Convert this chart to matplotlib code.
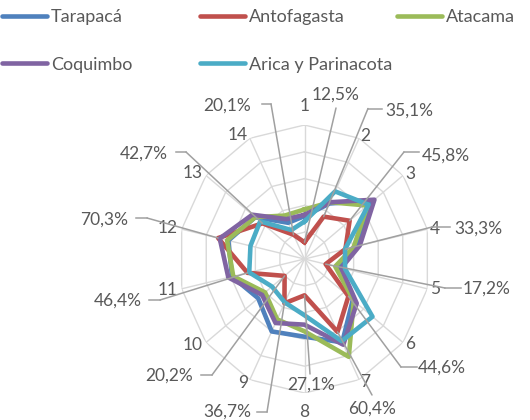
import numpy as np
import matplotlib.pyplot as plt
from matplotlib.lines import Line2D

plt.rcParams['font.family'] = ['Lato', 'DejaVu Sans']

W, H = 530, 420

ejes = [str(i) for i in range(1, 15)]
tarapaca = [0.32, 0.46, 0.70, 0.42, 0.27, 0.49, 0.69, 0.58, 0.60, 0.47, 0.59, 0.62, 0.50, 0.30]
antofagasta = [0.125, 0.351, 0.458, 0.333, 0.172, 0.446, 0.604, 0.271, 0.367, 0.202, 0.464, 0.703, 0.427, 0.201]
atacama = [0.37, 0.47, 0.64, 0.40, 0.25, 0.50, 0.81, 0.54, 0.50, 0.40, 0.58, 0.63, 0.50, 0.36]
coquimbo = [0.33, 0.47, 0.71, 0.45, 0.30, 0.53, 0.71, 0.49, 0.53, 0.43, 0.62, 0.69, 0.53, 0.33]
arica = [0.28, 0.56, 0.65, 0.33, 0.33, 0.69, 0.68, 0.42, 0.36, 0.33, 0.45, 0.44, 0.45, 0.24]

nombres = ["Tarapacá", "Antofagasta", "Atacama", "Coquimbo", "Arica y Parinacota"]
colores = ["#4F81BD", "#C0504D", "#9BBB59", "#8064A2", "#4BACC6"]
valores = [tarapaca, antofagasta, atacama, coquimbo, arica]

# callout layout (pixels from top-left): text centre, then leader points
callouts = [
    ((336, 95), [(336, 108)]),
    ((409, 111), [(382, 108.5), (368, 108.5)]),
    ((446, 156), [(419, 152), (404, 152)]),
    ((478, 229), [(450, 227), (432, 227)]),
    ((487, 289), [(461, 288), (445, 288)]),
    ((442, 368), [(417, 367), (401, 367)]),
    ((372, 409), [(372, 395)]),
    ((311, 385), [(310, 374)]),
    ((227, 412), [(257, 412), (267, 412)]),
    ((169, 376), [(201, 375), (212, 375)]),
    ((118, 301), [(149, 300), (160, 300)]),
    ((104, 220), [(136, 218), (147, 218)]),
    ((144, 154), [(176, 152), (186, 152)]),
    ((227, 106), [(262, 104), (271, 104)]),
]

def fig_xy(p):
    return (p[0] / W, 1 - p[1] / H)

fig = plt.figure(figsize=(W / 100, H / 100), dpi=100)
ax = fig.add_axes([178.5 / W, 27 / H, 252 / W, 268 / H], projection='polar')
ax.set_aspect('auto')
ax.set_theta_zero_location('N')
ax.set_theta_direction(-1)
ax.set_ylim(0, 1)
ax.set_xticks([])
ax.set_yticks([])
ax.grid(False)
ax.spines['polar'].set_visible(False)
ax.patch.set_visible(False)

n = len(ejes)
ang = np.arange(n) * 2 * np.pi / n
ang_c = np.append(ang, ang[0])

# radar grid
for r in [0.2, 0.4, 0.6, 0.8, 1.0]:
    ax.plot(ang_c, [r] * (n + 1), color="#D9D9D9", lw=1, zorder=1)
for a in ang:
    ax.plot([a, a], [0, 1], color="#D9D9D9", lw=1, zorder=1)

for i, (nom, vals, col) in enumerate(zip(nombres, valores, colores)):
    ax.plot(ang_c, vals + vals[:1], color=col, lw=3.3, zorder=3 + i)

texto = "#595959"
for a, lab in zip(ang, ejes):
    s = np.sin(a)
    if abs(s) < 0.1:
        ax.text(a, 1.14, lab, ha='center', va='center', fontsize=12.5, color=texto)
    elif s > 0:
        ax.text(a, 1.02, lab, ha='left', va='center', fontsize=12.5, color=texto)
    else:
        ax.text(a, 1.03, lab, ha='right', va='center', fontsize=12.5, color=texto)

# callouts for Antofagasta values
gris = "#A0A0A0"
for a, v, (tc, pts) in zip(ang, antofagasta, callouts):
    etiqueta = f"{v * 100:.1f}%".replace('.', ',')
    fig.text(*fig_xy(tc), etiqueta, ha='center', va='center', fontsize=12.5, color=texto)
    if len(pts) > 1:
        xs = [fig_xy(p)[0] for p in pts]
        ys = [fig_xy(p)[1] for p in pts]
        fig.add_artist(Line2D(xs, ys, color=gris, lw=1.1, transform=fig.transFigure, zorder=10))
    ax.annotate("", xy=(a, v), xycoords='data', xytext=fig_xy(pts[-1]),
                textcoords='figure fraction',
                arrowprops=dict(arrowstyle='-', color=gris, lw=1.1, shrinkA=0, shrinkB=0),
                zorder=10)

# legend in three columns
columnas = [([0, 3], 2), ([1, 4], 200), ([2], 397)]
for idx, x0 in columnas:
    hs = [Line2D([], [], color=colores[i], lw=3.3, solid_capstyle='round') for i in idx]
    fig.legend(hs, [nombres[i] for i in idx], loc='upper left',
               bbox_to_anchor=(x0 / W, 1 - 9 / H), frameon=False, fontsize=13,
               handlelength=2.5, handletextpad=0.2, labelspacing=1.75,
               borderpad=0, borderaxespad=0, labelcolor=texto)

fig.savefig("out.png", dpi=100)
